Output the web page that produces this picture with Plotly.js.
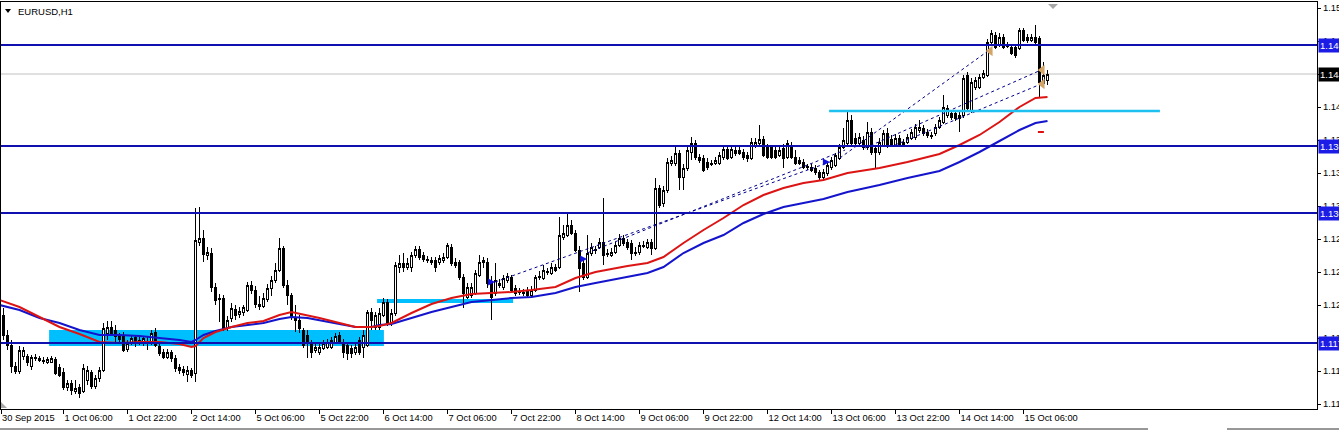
<!DOCTYPE html>
<html><head><meta charset="utf-8">
<script src="https://cdn.plot.ly/plotly-3.0.1.min.js"></script>
<style>html,body{margin:0;padding:0;background:#fff;overflow:hidden}#chart{width:1339px;height:430px}
#chart .boxlayer path{shape-rendering:crispEdges}</style>
</head><body><div id="chart"></div>
<script>
// ---- data (EURUSD H1, bar 0 = 30 Sep 2015 14:00) ----
const tickLabels = ["30 Sep 2015","1 Oct 06:00","1 Oct 22:00","2 Oct 14:00","5 Oct 06:00","5 Oct 22:00","6 Oct 14:00","7 Oct 06:00","7 Oct 22:00","8 Oct 14:00","9 Oct 06:00","9 Oct 22:00","12 Oct 14:00","13 Oct 06:00","13 Oct 22:00","14 Oct 14:00","15 Oct 06:00"];

const open = [1.1204,1.1199,1.1179,1.1169,1.1148,1.1143,1.1158,1.1158,1.1148,1.1157,1.1156,1.1154,1.1152,1.1152,1.1155,1.1147,1.1142,1.1127,1.1131,1.1123,1.1127,1.1123,1.1134,1.1142,1.1128,1.1136,1.1144,1.1181,1.1187,1.1184,1.1178,1.1178,1.1165,1.1171,1.1177,1.1173,1.1171,1.1173,1.1172,1.1182,1.1168,1.1162,1.1157,1.1162,1.1156,1.1147,1.1145,1.1140,1.1144,1.1141,1.1272,1.1276,1.1259,1.1261,1.1227,1.1215,1.1216,1.1186,1.1196,1.1205,1.1200,1.1202,1.1204,1.1229,1.1224,1.1210,1.1208,1.1215,1.1226,1.1234,1.1244,1.1266,1.1229,1.1219,1.1197,1.1194,1.1184,1.1179,1.1170,1.1164,1.1162,1.1166,1.1167,1.1167,1.1172,1.1179,1.1172,1.1169,1.1166,1.1162,1.1174,1.1167,1.1169,1.1202,1.1187,1.1187,1.1199,1.1212,1.1191,1.1201,1.1247,1.1251,1.1247,1.1247,1.1259,1.1265,1.1259,1.1255,1.1254,1.1254,1.1252,1.1254,1.1257,1.1267,1.1252,1.1252,1.1237,1.1217,1.1219,1.1221,1.1239,1.1252,1.1252,1.1231,1.1221,1.1229,1.1227,1.1234,1.1237,1.1226,1.1222,1.1222,1.1224,1.1219,1.1224,1.1237,1.1236,1.1243,1.1241,1.1247,1.1247,1.1277,1.1279,1.1289,1.1281,1.1264,1.1251,1.1237,1.1261,1.1264,1.1267,1.1272,1.1261,1.1259,1.1262,1.1269,1.1276,1.1272,1.1271,1.1261,1.1262,1.1269,1.1267,1.1272,1.1266,1.1326,1.1311,1.1324,1.1351,1.1351,1.1361,1.1337,1.1346,1.1362,1.1371,1.1357,1.1356,1.1352,1.1351,1.1351,1.1351,1.1357,1.1365,1.1357,1.1364,1.1364,1.1362,1.1359,1.1356,1.1369,1.1371,1.1375,1.1367,1.1367,1.1364,1.1359,1.1366,1.1357,1.1369,1.1357,1.1354,1.1352,1.1347,1.1347,1.1346,1.1342,1.1337,1.1341,1.1347,1.1349,1.1356,1.1367,1.1371,1.1394,1.1376,1.1371,1.1374,1.1367,1.1382,1.1366,1.1362,1.1369,1.1381,1.1375,1.1369,1.1376,1.1372,1.1372,1.1376,1.1377,1.1384,1.1386,1.1382,1.1379,1.1381,1.1387,1.1392,1.1399,1.1401,1.1401,1.1399,1.1399,1.1439,1.1404,1.1427,1.1427,1.1437,1.1439,1.1472,1.1479,1.1469,1.1477,1.1469,1.1467,1.1467,1.1466,1.1484,1.1477,1.1474,1.1477,1.1476,1.1431,1.1434];

const high = [1.1209,1.1206,1.1184,1.1174,1.1152,1.1168,1.1167,1.1160,1.1159,1.1160,1.1158,1.1157,1.1157,1.1158,1.1157,1.1150,1.1146,1.1134,1.1134,1.1134,1.1130,1.1150,1.1148,1.1144,1.1139,1.1147,1.1191,1.1193,1.1193,1.1189,1.1181,1.1182,1.1174,1.1179,1.1179,1.1177,1.1178,1.1177,1.1184,1.1186,1.1171,1.1165,1.1165,1.1164,1.1159,1.1150,1.1148,1.1148,1.1146,1.1306,1.1307,1.1284,1.1267,1.1266,1.1231,1.1220,1.1219,1.1198,1.1211,1.1209,1.1207,1.1209,1.1232,1.1233,1.1228,1.1218,1.1221,1.1230,1.1238,1.1251,1.1276,1.1268,1.1234,1.1221,1.1209,1.1199,1.1186,1.1184,1.1174,1.1170,1.1170,1.1174,1.1175,1.1177,1.1181,1.1182,1.1175,1.1172,1.1169,1.1171,1.1177,1.1184,1.1204,1.1206,1.1202,1.1206,1.1216,1.1215,1.1205,1.1252,1.1259,1.1261,1.1256,1.1262,1.1268,1.1268,1.1262,1.1258,1.1257,1.1257,1.1259,1.1261,1.1271,1.1270,1.1256,1.1254,1.1240,1.1231,1.1231,1.1244,1.1259,1.1257,1.1256,1.1238,1.1251,1.1235,1.1239,1.1241,1.1239,1.1229,1.1226,1.1225,1.1227,1.1228,1.1239,1.1243,1.1249,1.1246,1.1251,1.1250,1.1297,1.1289,1.1302,1.1294,1.1284,1.1268,1.1256,1.1279,1.1271,1.1268,1.1276,1.1316,1.1265,1.1266,1.1272,1.1280,1.1279,1.1275,1.1274,1.1267,1.1272,1.1273,1.1275,1.1275,1.1336,1.1329,1.1328,1.1356,1.1358,1.1369,1.1364,1.1350,1.1368,1.1377,1.1374,1.1360,1.1359,1.1356,1.1354,1.1357,1.1362,1.1368,1.1368,1.1368,1.1367,1.1367,1.1365,1.1362,1.1376,1.1376,1.1389,1.1378,1.1370,1.1369,1.1367,1.1368,1.1370,1.1374,1.1372,1.1364,1.1357,1.1355,1.1350,1.1350,1.1349,1.1344,1.1345,1.1352,1.1357,1.1361,1.1370,1.1386,1.1402,1.1399,1.1381,1.1381,1.1378,1.1392,1.1386,1.1369,1.1376,1.1384,1.1386,1.1379,1.1380,1.1379,1.1375,1.1380,1.1385,1.1390,1.1394,1.1389,1.1385,1.1382,1.1390,1.1397,1.1419,1.1409,1.1404,1.1404,1.1402,1.1439,1.1442,1.1436,1.1437,1.1440,1.1444,1.1475,1.1484,1.1482,1.1481,1.1480,1.1472,1.1470,1.1469,1.1486,1.1486,1.1480,1.1480,1.1489,1.1478,1.1452,1.1444];

const low = [1.1196,1.1174,1.1164,1.1141,1.1140,1.1140,1.1154,1.1148,1.1144,1.1153,1.1152,1.1150,1.1150,1.1151,1.1139,1.1137,1.1124,1.1123,1.1119,1.1120,1.1116,1.1121,1.1129,1.1125,1.1125,1.1132,1.1142,1.1174,1.1178,1.1171,1.1172,1.1162,1.1162,1.1169,1.1167,1.1169,1.1168,1.1164,1.1169,1.1167,1.1158,1.1155,1.1155,1.1152,1.1142,1.1140,1.1138,1.1132,1.1136,1.1132,1.1268,1.1252,1.1254,1.1222,1.1209,1.1192,1.1183,1.1183,1.1192,1.1194,1.1196,1.1198,1.1202,1.1220,1.1206,1.1204,1.1206,1.1212,1.1218,1.1231,1.1242,1.1226,1.1209,1.1194,1.1182,1.1181,1.1166,1.1156,1.1156,1.1161,1.1159,1.1164,1.1165,1.1165,1.1170,1.1170,1.1156,1.1154,1.1156,1.1159,1.1159,1.1156,1.1167,1.1184,1.1184,1.1184,1.1197,1.1188,1.1188,1.1198,1.1241,1.1242,1.1244,1.1242,1.1256,1.1254,1.1252,1.1251,1.1249,1.1242,1.1249,1.1251,1.1255,1.1248,1.1246,1.1234,1.1206,1.1215,1.1216,1.1219,1.1237,1.1246,1.1226,1.1194,1.1218,1.1226,1.1224,1.1231,1.1221,1.1218,1.1219,1.1218,1.1217,1.1217,1.1222,1.1234,1.1234,1.1239,1.1239,1.1242,1.1245,1.1274,1.1277,1.1279,1.1262,1.1222,1.1234,1.1235,1.1258,1.1260,1.1265,1.1249,1.1257,1.1257,1.1260,1.1267,1.1268,1.1264,1.1254,1.1258,1.1259,1.1266,1.1265,1.1259,1.1264,1.1306,1.1307,1.1321,1.1348,1.1348,1.1324,1.1324,1.1343,1.1354,1.1354,1.1351,1.1342,1.1344,1.1348,1.1349,1.1349,1.1354,1.1354,1.1355,1.1358,1.1359,1.1354,1.1352,1.1354,1.1366,1.1368,1.1357,1.1355,1.1355,1.1355,1.1357,1.1346,1.1355,1.1355,1.1349,1.1349,1.1345,1.1344,1.1342,1.1339,1.1334,1.1334,1.1338,1.1344,1.1347,1.1354,1.1365,1.1368,1.1368,1.1367,1.1367,1.1364,1.1364,1.1359,1.1346,1.1359,1.1367,1.1366,1.1367,1.1367,1.1367,1.1368,1.1370,1.1374,1.1374,1.1381,1.1378,1.1376,1.1375,1.1378,1.1385,1.1390,1.1396,1.1394,1.1393,1.1382,1.1396,1.1402,1.1401,1.1424,1.1425,1.1435,1.1437,1.1470,1.1465,1.1467,1.1465,1.1466,1.1459,1.1456,1.1464,1.1472,1.1471,1.1472,1.1470,1.1417,1.1426,1.1429];

const close = [1.1199,1.1179,1.1169,1.1148,1.1143,1.1164,1.1164,1.1152,1.1157,1.1156,1.1154,1.1153,1.1155,1.1156,1.1141,1.1139,1.1127,1.1131,1.1124,1.1126,1.1121,1.1146,1.1144,1.1128,1.1136,1.1144,1.1186,1.1187,1.1181,1.1178,1.1175,1.1164,1.1171,1.1176,1.1171,1.1174,1.1176,1.1172,1.1181,1.1169,1.1161,1.1157,1.1162,1.1156,1.1146,1.1144,1.1142,1.1144,1.1139,1.1274,1.1276,1.1260,1.1262,1.1227,1.1214,1.1216,1.1186,1.1194,1.1206,1.1199,1.1203,1.1207,1.1229,1.1224,1.1210,1.1208,1.1216,1.1226,1.1234,1.1244,1.1266,1.1229,1.1219,1.1198,1.1194,1.1186,1.1169,1.1171,1.1162,1.1167,1.1167,1.1171,1.1172,1.1174,1.1178,1.1172,1.1162,1.1161,1.1161,1.1167,1.1162,1.1179,1.1202,1.1194,1.1199,1.1201,1.1212,1.1191,1.1201,1.1249,1.1251,1.1247,1.1251,1.1259,1.1265,1.1257,1.1255,1.1254,1.1252,1.1247,1.1256,1.1257,1.1269,1.1251,1.1249,1.1237,1.1221,1.1227,1.1227,1.1241,1.1252,1.1254,1.1231,1.1217,1.1234,1.1231,1.1236,1.1238,1.1224,1.1221,1.1223,1.1221,1.1219,1.1224,1.1237,1.1238,1.1244,1.1242,1.1247,1.1244,1.1279,1.1281,1.1289,1.1281,1.1264,1.1246,1.1237,1.1261,1.1267,1.1265,1.1272,1.1259,1.1260,1.1262,1.1269,1.1276,1.1271,1.1267,1.1261,1.1262,1.1269,1.1268,1.1272,1.1266,1.1326,1.1309,1.1324,1.1352,1.1354,1.1361,1.1337,1.1346,1.1364,1.1371,1.1357,1.1354,1.1344,1.1347,1.1350,1.1354,1.1359,1.1365,1.1356,1.1365,1.1361,1.1361,1.1357,1.1356,1.1372,1.1372,1.1375,1.1359,1.1357,1.1357,1.1357,1.1364,1.1356,1.1371,1.1357,1.1351,1.1351,1.1347,1.1348,1.1344,1.1342,1.1337,1.1342,1.1349,1.1354,1.1359,1.1367,1.1374,1.1394,1.1371,1.1371,1.1377,1.1367,1.1382,1.1362,1.1362,1.1372,1.1381,1.1369,1.1369,1.1376,1.1369,1.1370,1.1377,1.1382,1.1387,1.1387,1.1381,1.1379,1.1378,1.1387,1.1394,1.1407,1.1406,1.1397,1.1396,1.1396,1.1436,1.1406,1.1432,1.1434,1.1437,1.1441,1.1472,1.1481,1.1467,1.1477,1.1467,1.1468,1.1461,1.1459,1.1484,1.1474,1.1474,1.1477,1.1472,1.1432,1.1439,1.1440];

const maIdx  = [0,5,10,15,20,25,30,35,40,45,48,49,51,54,58,62,66,70,73,77,80,85,89,93,95,98,103,108,113,118,128,133,139,144,149,157,162,166,171,176,181,186,191,196,201,206,212,220,227,235,240,245,250,255,259,262];
const maRed  = [1.1214,1.1207,1.1197,1.1187,1.1180,1.1172,1.1171,1.1172,1.1172,1.1170,1.1167,1.1168,1.1176,1.1182,1.1187,1.1191,1.1193,1.1199,1.1202,1.1199,1.1196,1.1191,1.1187,1.1187,1.1188,1.1191,1.1201,1.1210,1.1216,1.1220,1.1222,1.1224,1.1227,1.1236,1.1242,1.1248,1.1251,1.1257,1.1271,1.1284,1.1296,1.1309,1.1319,1.1326,1.1331,1.1334,1.1341,1.1346,1.1352,1.1360,1.1369,1.1379,1.1392,1.1407,1.1416,1.1417];
const maBlue = [1.1209,1.1204,1.1196,1.1191,1.1184,1.1179,1.1179,1.1178,1.1176,1.1174,1.1172,1.1174,1.1179,1.1183,1.1187,1.1189,1.1191,1.1195,1.1197,1.1196,1.1194,1.1190,1.1187,1.1187,1.1189,1.1190,1.1196,1.1202,1.1207,1.1212,1.1216,1.1217,1.1221,1.1227,1.1231,1.1237,1.1241,1.1247,1.1261,1.1271,1.1279,1.1291,1.1300,1.1307,1.1311,1.1315,1.1322,1.1329,1.1336,1.1343,1.1352,1.1362,1.1373,1.1384,1.1391,1.1393];

// horizontal levels, bid, zones
const levels = [1.1469, 1.1368, 1.1301, 1.1171];
const bidPrice = 1.1440;
const yTicks = [1.1506,1.1473,1.1440,1.1407,1.1374,1.1341,1.1308,1.1275,1.1242,1.1209,1.1176,1.1143,1.1110];
const zoneStart = [12.4, 94.4];
const zoneEnd   = [96.1, 128.4];
const zoneLow   = [1.1168, 1.1211];
const zoneHigh  = [1.1184, 1.1215];
const supportStart = 207.4, supportEnd = 290.1, supportPrice = 1.1403;

// trade history lines
const tradeOpenIdx    = [123.9, 146.9, 210.1, 216.4, 223.9];
const tradeOpenPrice  = [1.1232, 1.1261, 1.1356, 1.1366, 1.1369];
const tradeCloseIdx   = [207.6, 211.4, 247.1, 260.4, 260.4];
const tradeClosePrice = [1.1352, 1.1364, 1.1463, 1.1444, 1.1430];
const buyIdx   = [123.9, 146.9, 207.6];
const buyPrice = [1.1232, 1.1255, 1.1352];
const exitIdx   = [247.7, 260.7, 260.7];
const exitPrice = [1.1463, 1.1444, 1.1430];
const stopIdx = [259.6, 261.1], stopPrice = 1.1382;

// ---- chart ----
const N = open.length;
const idx = Array.from({length: N}, (_, i) => i);
const xRange = [0.375, 329.375];   // 4 px per bar
const yRange = [1.1105, 1.1512];   // 1 px per 0.0001
const FONT = 'Liberation Sans, Arial, sans-serif';

const traces = [];
traces.push({
  type: 'candlestick', x: idx, open: open, high: high, low: low, close: close,
  increasing: {line: {color: '#000000', width: 1}, fillcolor: '#ffffff'},
  decreasing: {line: {color: '#000000', width: 1}, fillcolor: '#000000'},
  whiskerwidth: 0, hoverinfo: 'skip', showlegend: false
});
traces.push({type: 'scatter', mode: 'lines', x: maIdx, y: maBlue, line: {color: '#1414CC', width: 2}, hoverinfo: 'skip'});
traces.push({type: 'scatter', mode: 'lines', x: maIdx, y: maRed, line: {color: '#DC1414', width: 2}, hoverinfo: 'skip'});
for (let k = 0; k < tradeOpenIdx.length; k++) {
  traces.push({type: 'scatter', mode: 'lines', x: [tradeOpenIdx[k], tradeCloseIdx[k]], y: [tradeOpenPrice[k], tradeClosePrice[k]],
    line: {color: '#00008B', width: 1, dash: '3px,3px'}, hoverinfo: 'skip'});
}
traces.push({type: 'scatter', mode: 'markers', x: buyIdx, y: buyPrice, marker: {symbol: 'arrow-right', size: 7, color: '#1010E0'}, hoverinfo: 'skip'});
traces.push({type: 'scatter', mode: 'markers', x: exitIdx, y: exitPrice, marker: {symbol: 'triangle-left', size: 9, color: '#D2A468'}, hoverinfo: 'skip'});

const pxX = px => (px - 1) / 1316;
const pxY = py => (409 - py) / 407;

const shapes = [];
for (let k = 0; k < zoneStart.length; k++) {
  shapes.push({type: 'rect', xref: 'x', yref: 'y', x0: zoneStart[k], x1: zoneEnd[k], y0: zoneLow[k], y1: zoneHigh[k],
    fillcolor: '#00BFFF', line: {width: 0}, layer: 'below'});
}
shapes.push({type: 'line', xref: 'paper', yref: 'y', x0: 0, x1: 1, y0: bidPrice, y1: bidPrice, line: {color: '#C0C0C0', width: 1}, layer: 'below'});
levels.forEach(v => shapes.push({type: 'line', xref: 'paper', yref: 'y', x0: 0, x1: 1, y0: v, y1: v, line: {color: '#1010B0', width: 2}, layer: 'above'}));
shapes.push({type: 'line', xref: 'x', yref: 'y', x0: supportStart, x1: supportEnd, y0: supportPrice, y1: supportPrice, line: {color: '#1EC0F0', width: 2.5}, layer: 'above'});
shapes.push({type: 'line', xref: 'x', yref: 'y', x0: stopIdx[0], x1: stopIdx[1], y0: stopPrice, y1: stopPrice, line: {color: '#E01010', width: 2}, layer: 'above'});
// title triangle
shapes.push({type: 'path', xref: 'paper', yref: 'paper',
  path: `M ${pxX(5)},${pxY(9)} L ${pxX(11)},${pxY(9)} L ${pxX(8)},${pxY(13)} Z`, fillcolor: '#000', line: {width: 0}});
// chart-shift marker
shapes.push({type: 'path', xref: 'paper', yref: 'paper',
  path: `M ${pxX(1048)},${pxY(4)} L ${pxX(1058)},${pxY(4)} L ${pxX(1053)},${pxY(9)} Z`, fillcolor: '#A8A8A8', line: {width: 0}});
// scroll marker bottom-left
shapes.push({type: 'path', xref: 'paper', yref: 'paper',
  path: `M ${pxX(1)},${pxY(402)} L ${pxX(1)},${pxY(408)} L ${pxX(7)},${pxY(408)} Z`, fillcolor: '#A8A8A8', line: {width: 0}});
// window bottom line
shapes.push({type: 'line', xref: 'paper', yref: 'paper', x0: pxX(0), x1: pxX(1148), y0: pxY(429), y1: pxY(429), line: {color: '#303030', width: 1}});
shapes.push({type: 'line', xref: 'paper', yref: 'paper', x0: pxX(1227), x1: pxX(1339), y0: pxY(429), y1: pxY(429), line: {color: '#303030', width: 1}});

const annotations = [];
annotations.push({xref: 'paper', yref: 'paper', x: pxX(16), y: pxY(12), xanchor: 'left', yanchor: 'middle', showarrow: false,
  text: 'EURUSD,H1', font: {family: FONT, size: 9.5, color: '#000'}});
levels.forEach(v => annotations.push({xref: 'paper', yref: 'y', x: 1, y: v, xanchor: 'left', yanchor: 'middle', xshift: 1, showarrow: false,
  text: v.toFixed(5), bgcolor: '#1C1CE6', borderpad: 1, font: {family: FONT, size: 9.5, color: '#fff'}}));
annotations.push({xref: 'paper', yref: 'y', x: 1, y: bidPrice, xanchor: 'left', yanchor: 'middle', xshift: 1, showarrow: false,
  text: bidPrice.toFixed(5), bgcolor: '#000', borderpad: 1, font: {family: FONT, size: 9.5, color: '#fff'}});

const layout = {
  width: 1339, height: 430,
  margin: {l: 1, r: 22, t: 2, b: 21, pad: 0},
  paper_bgcolor: '#fff', plot_bgcolor: '#fff',
  showlegend: false, boxgap: 0.5,
  font: {family: FONT, size: 9.5, color: '#000'},
  xaxis: {
    type: 'linear', range: xRange, fixedrange: true, automargin: false,
    rangeslider: {visible: false},
    tickmode: 'array',
    tickvals: tickLabels.map((_, k) => k === 0 ? xRange[0] : k * 16),
    ticktext: tickLabels,
    ticks: 'outside', ticklen: 4, tickcolor: '#000', tickwidth: 1,
    ticklabelposition: 'outside right',
    tickfont: {family: FONT, size: 9.3, color: '#000'},
    showgrid: false, zeroline: false,
    showline: true, linecolor: '#000', linewidth: 1, mirror: true
  },
  yaxis: {
    type: 'linear', range: yRange, fixedrange: true, automargin: false, side: 'right',
    tickmode: 'array', tickvals: yTicks, ticktext: yTicks.map(v => v.toFixed(5)),
    ticks: 'outside', ticklen: 3, tickcolor: '#000', tickwidth: 1,
    tickfont: {family: FONT, size: 9.5, color: '#000'},
    showgrid: false, zeroline: false,
    showline: true, linecolor: '#000', linewidth: 1, mirror: true
  },
  shapes: shapes,
  annotations: annotations
};

Plotly.newPlot('chart', traces, layout, {staticPlot: true, displayModeBar: false});
</script>
</body></html>
